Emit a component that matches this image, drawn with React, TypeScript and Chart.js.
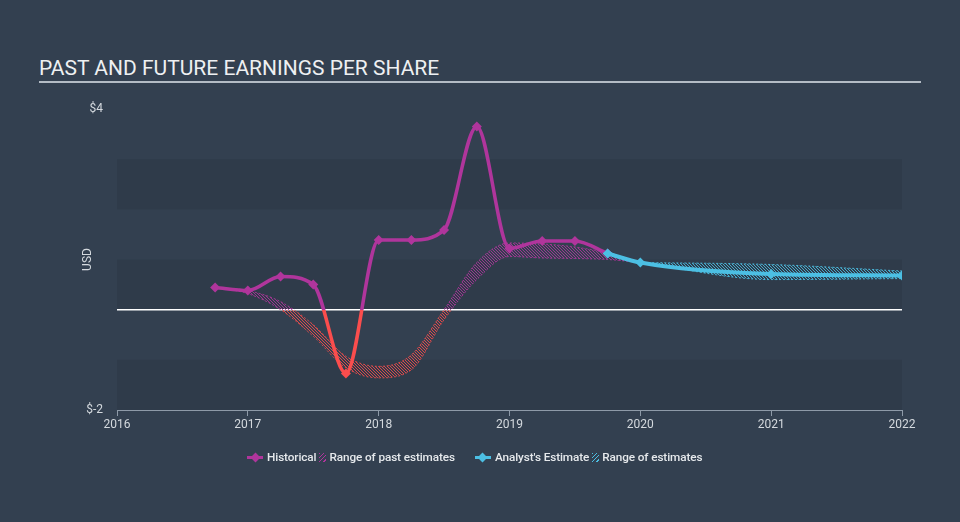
import React, { useEffect, useRef } from 'react';
import { Chart, registerables } from 'chart.js';

Chart.register(...registerables);

// ---- data ----
const yearTicks = [2016, 2017, 2018, 2019, 2020, 2021, 2022];

const histDates = [2016.75, 2017.0, 2017.25, 2017.5, 2017.75, 2018.0, 2018.25, 2018.5, 2018.75, 2019.0, 2019.25, 2019.5, 2019.75];
const histEps = [0.44, 0.38, 0.66, 0.5, -1.27, 1.39, 1.39, 1.59, 3.65, 1.22, 1.37, 1.37, 1.12];

const pastRangeDates = [2016.75, 2017.0, 2017.25, 2017.5, 2017.75, 2018.0, 2018.25, 2018.5, 2018.75, 2019.0, 2019.25, 2019.5, 2019.75, 2020.0];
const pastHigh = [0.44, 0.38, 0.16, -0.3, -0.93, -1.13, -0.9, 0.0, 0.94, 1.33, 1.31, 1.25, 1.13, 0.94];
const pastLow = [0.44, 0.32, 0.0, -0.53, -1.16, -1.36, -1.2, -0.2, 0.6, 1.06, 1.03, 1.02, 1.0, 0.94];

const estDates = [2019.75, 2020.0, 2021.0, 2022.0];
const estEps = [1.12, 0.94, 0.71, 0.68];

const estRangeDates = [2020.0, 2021.0, 2022.0];
const estHigh = [0.94, 0.9, 0.77];
const estLow = [0.94, 0.6, 0.62];

// ---- styles ----
const BG = '#334050';
const BAND_DARK = 'rgba(20,30,42,0.13)';
const MAGENTA = '#b0359c';
const RED = '#fb4d4d';
const BLUE = '#4cbfe3';
const TICK = '#d4d9de';
const AXIS = '#8e9aa8';
const FONT = 'Roboto, "Open Sans", sans-serif';

const pts = (xs: number[], ys: number[]) => xs.map((x, i) => ({ x, y: ys[i] }));

function zeroGradient(chart: any, above: string, below: string) {
  const { chartArea, scales } = chart;
  if (!chartArea || !scales.y) return above;
  const y0 = scales.y.getPixelForValue(0);
  const g = chart.ctx.createLinearGradient(0, chartArea.top, 0, chartArea.bottom);
  let f = (y0 - chartArea.top) / (chartArea.bottom - chartArea.top);
  f = Math.max(0, Math.min(1, f));
  g.addColorStop(0, above);
  g.addColorStop(f, above);
  g.addColorStop(f, below);
  g.addColorStop(1, below);
  return g;
}

function hatchPattern(chart: any, above: string, below: string, period = 3) {
  const h = Math.max(1, Math.round(chart.height || 522));
  const y0 = chart.scales && chart.scales.y ? chart.scales.y.getPixelForValue(0) : h;
  const c = document.createElement('canvas');
  c.width = period;
  c.height = h;
  const g = c.getContext('2d')!;
  for (let y = 0; y < h; y++) {
    g.fillStyle = y < y0 ? above : below;
    const x = y % period;
    g.fillRect(x, y, 1, 1);
  }
  return chart.ctx.createPattern(c, 'repeat');
}

const bandPlugin = {
  id: 'bands',
  beforeDraw(chart: any) {
    const { ctx, chartArea, scales } = chart;
    const y = scales.y;
    if (!y || !chartArea) return;
    const ticks = y.ticks;
    ctx.save();
    ctx.fillStyle = BAND_DARK;
    for (let i = 0; i + 1 < ticks.length; i += 2) {
      const a = y.getPixelForValue(ticks[i].value);
      const b = y.getPixelForValue(ticks[i + 1].value);
      ctx.fillRect(chartArea.left, Math.min(a, b), chartArea.right - chartArea.left, Math.abs(a - b));
    }
    ctx.restore();
  },
};

export default function App() {
  const ref = useRef<HTMLCanvasElement>(null);

  useEffect(() => {
    const chart = new Chart(ref.current!, {
      type: 'line',
      data: {
        datasets: [
          {
            label: "Analyst's Estimate",
            data: pts(estDates, estEps),
            borderColor: BLUE,
            backgroundColor: BLUE,
            borderWidth: 4,
            pointStyle: 'rectRot',
            pointRadius: 5,
            pointBorderWidth: 0,
            pointBackgroundColor: BLUE,
            fill: false,
          },
          {
            label: 'Historical',
            data: pts(histDates, histEps),
            borderColor: (c: any) => zeroGradient(c.chart, MAGENTA, RED),
            borderWidth: 3.5,
            pointStyle: 'rectRot',
            pointRadius: 5,
            pointBorderWidth: 0,
            pointBackgroundColor: (c: any) => (c.parsed && c.parsed.y < 0 ? RED : MAGENTA),
            fill: false,
          },
          {
            label: 'pastHigh',
            data: pts(pastRangeDates, pastHigh),
            borderColor: (c: any) => zeroGradient(c.chart, 'rgba(176,53,156,0.85)', 'rgba(235,75,75,0.85)'),
            borderWidth: 1,
            borderDash: [2, 2],
            pointRadius: 0,
            fill: false,
          },
          {
            label: 'pastLow',
            data: pts(pastRangeDates, pastLow),
            borderColor: (c: any) => zeroGradient(c.chart, 'rgba(176,53,156,0.85)', 'rgba(235,75,75,0.85)'),
            backgroundColor: (c: any) => hatchPattern(c.chart, 'rgba(176,53,156,0.85)', 'rgba(235,75,75,0.9)'),
            borderWidth: 1,
            borderDash: [2, 2],
            pointRadius: 0,
            fill: '-1',
          },
          {
            label: 'estHigh',
            data: pts(estRangeDates, estHigh),
            borderColor: 'rgba(76,191,227,0.9)',
            borderWidth: 1,
            borderDash: [2, 2],
            pointRadius: 0,
            fill: false,
          },
          {
            label: 'estLow',
            data: pts(estRangeDates, estLow),
            borderColor: 'rgba(76,191,227,0.9)',
            backgroundColor: (c: any) => hatchPattern(c.chart, 'rgba(76,191,227,0.85)', 'rgba(76,191,227,0.85)'),
            borderWidth: 1,
            borderDash: [2, 2],
            pointRadius: 0,
            fill: '-1',
          },
        ],
      },
      options: {
        animation: false,
        responsive: false,
        layout: { padding: { top: 109, right: 58, bottom: 0, left: 0 } },
        plugins: { legend: { display: false }, tooltip: { enabled: false } },
        elements: { line: { cubicInterpolationMode: 'monotone' } },
        scales: {
          x: {
            type: 'linear',
            min: yearTicks[0],
            max: yearTicks[yearTicks.length - 1],
            afterFit: (s: any) => {
              s.height = 112;
            },
            afterBuildTicks: (s: any) => {
              s.ticks = yearTicks.map((v) => ({ value: v }));
            },
            ticks: {
              autoSkip: false,
              maxRotation: 0,
              color: TICK,
              font: { family: FONT, size: 12 },
              padding: 2,
              callback: (v: any) => String(v),
            },
            grid: { drawOnChartArea: false, drawTicks: true, tickLength: 6, color: AXIS },
            border: { display: true, color: AXIS, width: 1 },
          },
          y: {
            min: -2,
            max: 4,
            afterFit: (s: any) => {
              s.width = 117;
            },
            ticks: {
              stepSize: 1,
              color: TICK,
              font: { family: FONT, size: 12 },
              padding: 14,
              callback: (v: any) => (v === 4 || v === -2 ? `$${v}` : ''),
            },
            grid: {
              drawTicks: false,
              color: (c: any) => (c.tick && c.tick.value === 0 ? '#ffffff' : 'rgba(0,0,0,0)'),
              lineWidth: 1.5,
            },
            border: { display: false },
            title: {
              display: true,
              text: 'USD',
              color: TICK,
              font: { family: FONT, size: 12 },
              padding: { top: 81, bottom: 0 },
            },
          },
        },
      },
      plugins: [bandPlugin],
    } as any);
    return () => chart.destroy();
  }, []);

  const legendText: React.CSSProperties = { color: '#e6e9ec', fontSize: 11.75, fontWeight: 500, whiteSpace: 'nowrap', letterSpacing: -0.1 };
  const diamondIcon = (color: string) => (
    <span style={{ position: 'relative', display: 'inline-block', width: 16, height: 10, marginRight: 4 }}>
      <span style={{ position: 'absolute', left: 0, top: 4, width: 16, height: 3, background: color }} />
      <span style={{ position: 'absolute', left: 4.5, top: 2, width: 7, height: 7, background: color, transform: 'rotate(45deg)' }} />
    </span>
  );
  const hatchIcon = (color: string) => (
    <span
      style={{
        display: 'inline-block',
        width: 7,
        height: 9,
        margin: '0 3px 0 3px',
        background: `repeating-linear-gradient(135deg, ${color} 0 1px, transparent 1px 3px)`,
      }}
    />
  );

  return (
    <div style={{ position: 'fixed', left: 0, top: 0, width: 960, height: 522, background: BG, overflow: 'hidden', fontFamily: FONT }}>
      <div style={{ position: 'absolute', left: 39, top: 58, fontSize: 21, lineHeight: '21px', color: '#eef0f2', whiteSpace: 'nowrap' }}>
        PAST AND FUTURE EARNINGS PER SHARE
      </div>
      <div style={{ position: 'absolute', left: 39, top: 81, width: 882, height: 2, background: '#b4bcc5' }} />
      <canvas ref={ref} width={960} height={522} style={{ position: 'absolute', left: 0, top: 0, width: 960, height: 522 }} />
      <div style={{ position: 'absolute', left: 247, top: 450, height: 14, display: 'flex', alignItems: 'center' }}>
        {diamondIcon(MAGENTA)}
        <span style={legendText}>Historical</span>
        {hatchIcon(MAGENTA)}
        <span style={legendText}>Range of past estimates</span>
        <span style={{ display: 'inline-block', width: 20 }} />
        {diamondIcon(BLUE)}
        <span style={legendText}>Analyst's Estimate</span>
        {hatchIcon(BLUE)}
        <span style={legendText}>Range of estimates</span>
      </div>
    </div>
  );
}
